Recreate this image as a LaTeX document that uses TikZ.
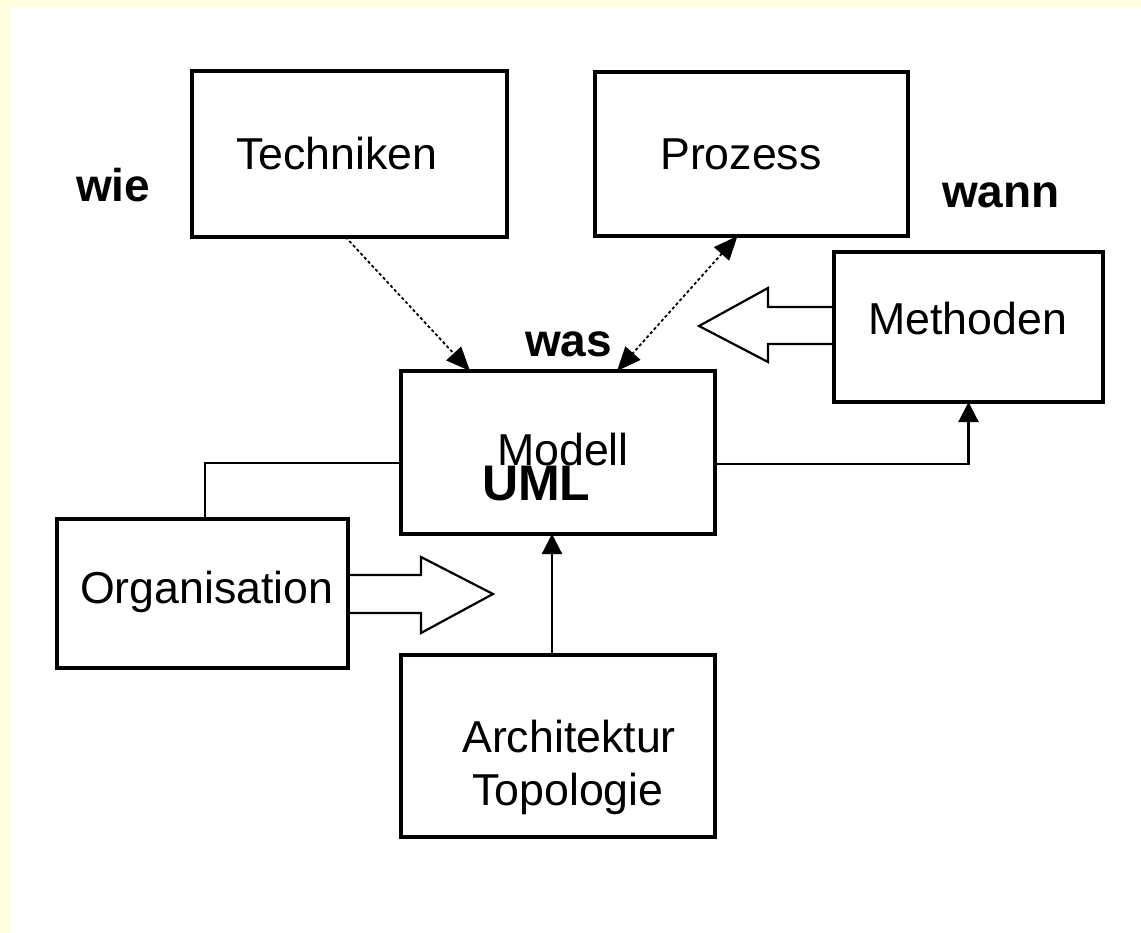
\documentclass[tikz,border=0pt]{standalone}
\usepackage{fontspec}
\setmainfont{Liberation Sans}
\usetikzlibrary{arrows.meta,calc}
\definecolor{cream}{RGB}{255,255,221}

\begin{document}
\begin{tikzpicture}[x=1pt,y=-1pt,
  box/.style={draw,line width=3.2pt,inner sep=0pt,outer sep=0pt,rectangle},
  lbl/.style={anchor=base west,inner sep=0pt,font=\fontsize{44.7}{50}\selectfont},
  kw/.style={anchor=base west,inner sep=0pt,font=\fontsize{46}{50}\selectfont\bfseries},
  conn/.style={line width=2.2pt,line join=miter},
  dots/.style={line width=1.8pt,dash pattern=on 3pt off 2.5pt},
  bigtip/.style={-{Triangle[length=24pt,width=20pt]}},
  bothtips/.style={{Triangle[length=24pt,width=20pt]}-{Triangle[length=24pt,width=20pt]}},
  smalltip/.style={-{Triangle[length=20pt,width=20pt]}}
]
% page background with the pale band along the top and left
\fill[white] (0,0) rectangle (1141,933);
\fill[cream] (0,0) rectangle (1141,7);
\fill[cream] (0,0) rectangle (9,933);
\useasboundingbox (0,0) rectangle (1141,933);

% boxes
\node[box,minimum width=315,minimum height=166] (tech) at (349.5,154) {};
\node[box,minimum width=313,minimum height=164] (proz) at (751.5,154) {};
\node[box,minimum width=269,minimum height=150] (meth) at (968.5,327) {};
\node[box,minimum width=314,minimum height=163] (mod)  at (558,452.5) {};
\node[box,minimum width=291,minimum height=149] (org)  at (202.5,593.5) {};
\node[box,minimum width=314,minimum height=182] (arch) at (558,746) {};

% box texts
\node[lbl] (t-tech) at (236,170) {Techniken};
\node[lbl] (t-proz) at (660,170) {Prozess};
\node[lbl] (t-meth) at (868,335) {Methoden};
\node[lbl] (t-mod)  at (497,465) {Modell};
\node[anchor=base west,inner sep=0pt,font=\fontsize{50}{54}\selectfont\bfseries] (t-uml) at (482,500) {UML};
\node[lbl] (t-org)  at (80,603) {Organisation};
\node[lbl] (t-arch) at (462,752) {Architektur};
\node[lbl] (t-topo) at (472,805) {Topologie};

% question words
\node[kw] (wie)  at (76,202) {wie};
\node[kw] (wann) at (942,208) {wann};
\node[kw] (was)  at (525,357) {was};

% dotted connectors
\draw[dots,bigtip] ($(tech.south)+(-4,0)$) -- ($(mod.north)+(-88,0)$);
\draw[dots,bothtips] ($(proz.south)+(-14,0)$) -- ($(mod.north)+(59,0)$);

% solid connectors
\draw[conn,smalltip] ($(mod.east)+(0,11.5)$) -| (meth.south);
\draw[conn,smalltip] ($(arch.north)+(-6,0)$) -- ($(mod.south)+(-6,0)$);
\draw[conn] ($(mod.west)+(0,10.5)$) -| ($(org.north)+(2.5,0)$);

% hollow block arrows
\draw[conn] ($(meth.west)+(0,-20)$) -- ++(-66,0) -- ++(0,-19) -- ++(-69,38)
  -- ++(69,36) -- ++(0,-18) -- ($(meth.west)+(0,17)$);
\draw[conn] ($(org.east)+(0,-18.5)$) -- ++(73,0) -- ++(0,-18) -- ++(72,37)
  -- ++(-72,39) -- ++(0,-20) -- ($(org.east)+(0,19.5)$);
\end{tikzpicture}
\end{document}
